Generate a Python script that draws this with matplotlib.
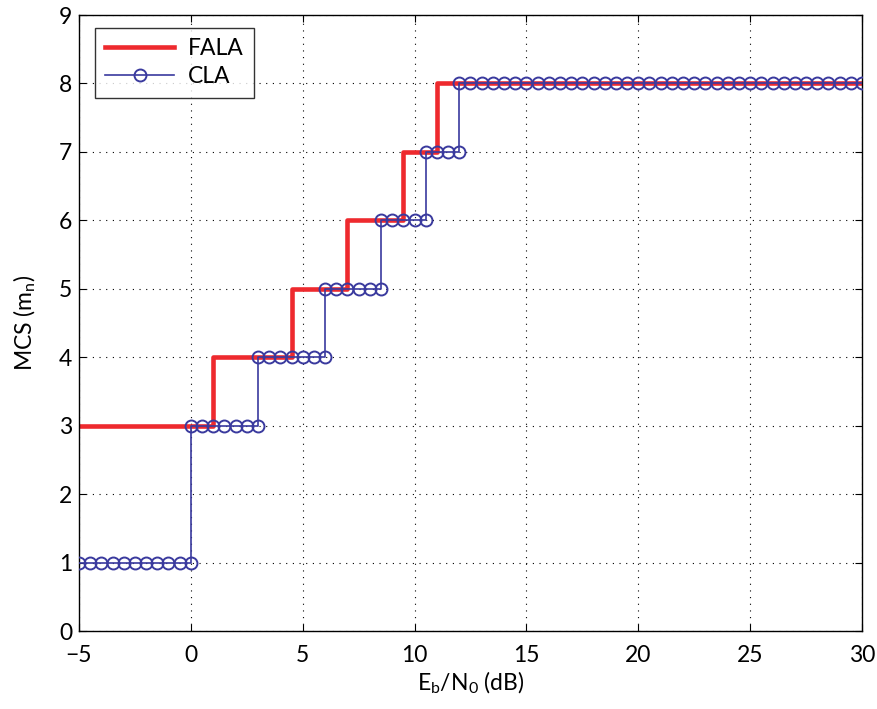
import matplotlib.pyplot as plt

plt.rcParams['font.family'] = ['Lato', 'DejaVu Sans']
plt.rcParams['mathtext.fontset'] = 'custom'
plt.rcParams['mathtext.rm'] = 'Lato'
plt.rcParams['mathtext.it'] = 'Lato'

# FALA: switching points (dB) and the MCS held from each one
fala_snr = [-5, 1, 4.5, 7, 9.5, 11, 30]
fala_mcs = [3, 4, 5, 6, 7, 8, 8]

# CLA: evaluated every 0.5 dB, points repeated at each switch
cla_snr = [-5, -4.5, -4, -3.5, -3, -2.5, -2, -1.5, -1, -0.5, 0,
           0, 0.5, 1, 1.5, 2, 2.5, 3,
           3, 3.5, 4, 4.5, 5, 5.5, 6,
           6, 6.5, 7, 7.5, 8, 8.5,
           8.5, 9, 9.5, 10, 10.5,
           10.5, 11, 11.5, 12,
           12, 12.5, 13, 13.5, 14, 14.5, 15, 15.5, 16, 16.5, 17, 17.5,
           18, 18.5, 19, 19.5, 20, 20.5, 21, 21.5, 22, 22.5, 23, 23.5,
           24, 24.5, 25, 25.5, 26, 26.5, 27, 27.5, 28, 28.5, 29, 29.5, 30]
cla_mcs = [1] * 11 + [3] * 7 + [4] * 7 + [5] * 6 + [6] * 5 + [7] * 4 + [8] * 37

fig = plt.figure(figsize=(8.77, 7.09), dpi=100)
ax = fig.add_axes([79 / 877, 1 - 631 / 709, (862 - 79) / 877, (631 - 15) / 709])

ax.plot(fala_snr, fala_mcs, drawstyle='steps-post', color='#ee2a2e',
        linewidth=3.3, label='FALA', zorder=2)
ax.plot(cla_snr, cla_mcs, color='#3a3a9e', linewidth=1.2, marker='o',
        markersize=8.6, markerfacecolor='none', markeredgewidth=1.4,
        label='CLA', zorder=3)

ax.set_xlim(-5, 30)
ax.set_ylim(0, 9)
ax.set_xticks(range(-5, 31, 5))
ax.set_yticks(range(0, 10))
ax.set_xticklabels(['\u22125'] + [str(v) for v in range(0, 31, 5)])
ax.grid(True, color='black', linestyle=(0, (1, 5)), linewidth=0.8)
ax.tick_params(direction='in', top=True, right=True, labelsize=16.5, length=5, pad=5)
ax.tick_params(axis='x', pad=10)
for s in ax.spines.values():
    s.set_linewidth(1.0)

ax.set_xlabel('E$_{\\mathrm{b}}$/N$_{0}$ (dB)', fontsize=16.5, labelpad=3)
ax.set_ylabel('MCS (m$_{\\mathrm{n}}$)', fontsize=16.5, labelpad=15)

leg = ax.legend(loc='upper left', bbox_to_anchor=(16 / 783, 1 - 13 / 616),
                borderaxespad=0, fontsize=16.5, frameon=True, fancybox=False,
                edgecolor='black', handlelength=3.0, borderpad=0.45,
                labelspacing=0.3, handletextpad=0.6)
leg.get_frame().set_linewidth(1.0)

fig.savefig('out.png', dpi=100)
